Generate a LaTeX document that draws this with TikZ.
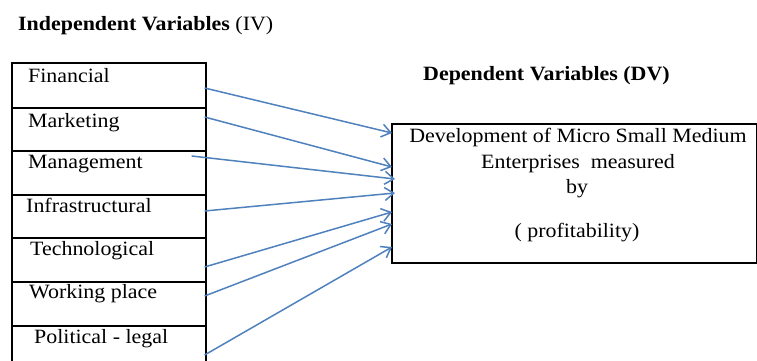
\documentclass[tikz,border=0pt]{standalone}
\usepackage{fontspec}
\setmainfont{Liberation Serif}[FakeStretch=1.08]
\usetikzlibrary{arrows.meta,calc}
\definecolor{arrowblue}{HTML}{4F81BD}
\tikzset{
  varbox/.style={draw=black, line width=1.6pt, rectangle, inner sep=0pt,
    minimum width=194pt, anchor=north west},
  dvbox/.style={draw=black, line width=1.6pt, rectangle, inner sep=0pt, anchor=north west},
  lbl/.style={anchor=base west, inner sep=0pt, font=\fontsize{20.3}{24}\selectfont},
  dvtext/.style={anchor=base, inner sep=0pt, font=\fontsize{20.3}{24}\selectfont},
  heading/.style={anchor=base west, inner sep=0pt, font=\fontsize{20.3}{24}\selectfont},
  link/.style={draw=arrowblue, line width=1.5pt,
    -{Straight Barb[length=9pt,width=13pt,line width=1.5pt]}}
}
\begin{document}
\begin{tikzpicture}[x=1pt,y=-1pt]
\useasboundingbox (0,0) rectangle (757,361);
\clip (0,0) rectangle (757,361);

% headings
\node[heading] (ivhead) at (18,31) {\textbf{Independent Variables} (IV)};
\node[heading] (dvhead) at (423,81) {\textbf{Dependent Variables (DV)}};

% independent variable boxes
\node[varbox, minimum height=45pt] (f1) at (11,62) {};
\node[varbox, minimum height=43pt] (f2) at (11,107) {};
\node[varbox, minimum height=44pt] (f3) at (11,150) {};
\node[varbox, minimum height=43pt] (f4) at (11,194) {};
\node[varbox, minimum height=44pt] (f5) at (11,237) {};
\node[varbox, minimum height=44pt] (f6) at (11,281) {};
\node[varbox, minimum height=44pt] (f7) at (11,325) {};

\node[lbl] (t1) at ($(f1.north west)+(17,20)$) {Financial};
\node[lbl] (t2) at ($(f2.north west)+(17,20)$) {Marketing};
\node[lbl] (t3) at ($(f3.north west)+(17,18)$) {Management};
\node[lbl] (t4) at ($(f4.north west)+(15,18)$) {Infrastructural};
\node[lbl] (t5) at ($(f5.north west)+(19,18)$) {Technological};
\node[lbl] (t6) at ($(f6.north west)+(18,17)$) {Working place};
\node[lbl] (t7) at ($(f7.north west)+(23,18)$) {Political - legal};

% dependent variable box
\node[dvbox, minimum width=365pt, minimum height=139pt] (dv) at (391,123) {};
\node[dvtext] (d1) at (578,142) {Development of Micro Small Medium};
\node[dvtext] (d2) at (578,168) {Enterprises\ \ measured};
\node[dvtext] (d3) at (577,193) {by};
\node[dvtext] (d4) at (577,237) {( profitability)};

% arrow end points
\coordinate (s1) at ($(f1.north east)+(-2,26)$);
\coordinate (s2) at ($(f2.north east)+(-2,10)$);
\coordinate (s3) at ($(f3.north east)+(-15,6)$);
\coordinate (s4) at ($(f4.north east)+(-2,17)$);
\coordinate (s5) at ($(f5.north east)+(-2,30)$);
\coordinate (s6) at ($(f6.north east)+(-2,15)$);
\coordinate (s7) at ($(f7.north east)+(-2,30)$);
\coordinate (e1) at ($(dv.north west)+(1,10)$);
\coordinate (e2) at ($(dv.north west)+(1,44)$);
\coordinate (e3) at ($(dv.north west)+(4,56)$);
\coordinate (e4) at ($(dv.north west)+(4,70)$);
\coordinate (e5) at ($(dv.north west)+(1,89)$);
\coordinate (e6) at ($(dv.north west)+(1,101)$);
\coordinate (e7) at ($(dv.north west)+(1,124)$);

\foreach \i in {1,...,7} { \draw[link] (s\i) -- (e\i); }
\end{tikzpicture}
\end{document}
